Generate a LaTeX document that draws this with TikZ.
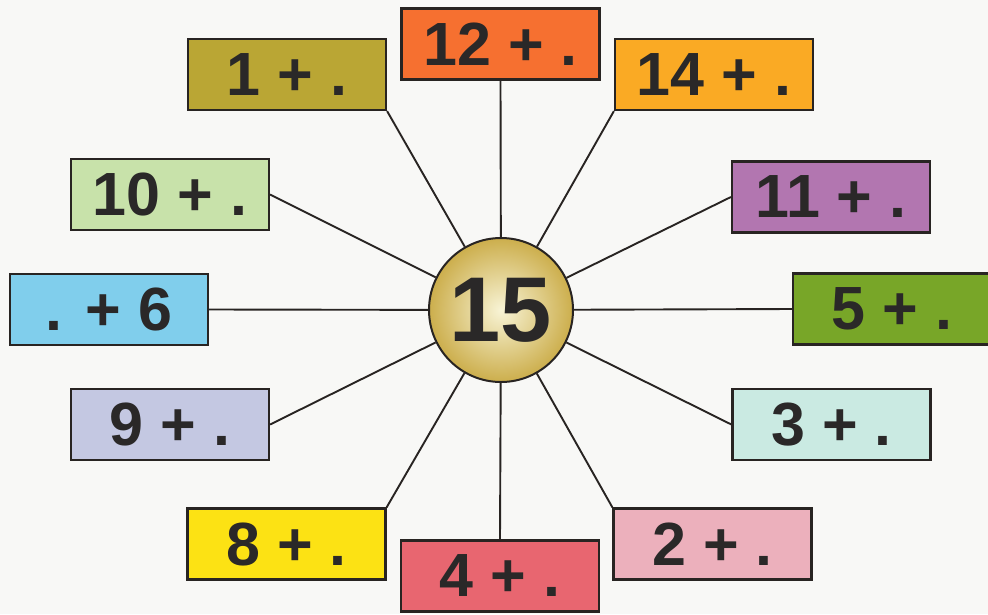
\documentclass[tikz,border=0pt]{standalone}
\usepackage{fontspec}
\setmainfont{Liberation Sans}
\begin{document}
\begin{tikzpicture}[x=1pt, y=-1pt,
    numbox/.style={draw=myedge, line width=2.2pt, minimum width=198pt,
        minimum height=71pt, inner sep=0pt, text=mytext,
        font=\fontsize{61}{61}\selectfont\bfseries},
    spoke/.style={draw=myedge, line width=1.9pt}]
    \definecolor{mybg}{RGB}{248,248,246}
    \definecolor{myedge}{RGB}{40,36,34}
    \definecolor{mytext}{RGB}{42,40,40}
    \definecolor{myolive}{RGB}{186,166,52}
    \definecolor{myred}{RGB}{246,112,48}
    \definecolor{myorange}{RGB}{250,170,36}
    \definecolor{mylgreen}{RGB}{200,226,170}
    \definecolor{mypurple}{RGB}{178,118,176}
    \definecolor{myblue}{RGB}{128,206,236}
    \definecolor{mygreen}{RGB}{120,166,40}
    \definecolor{mylav}{RGB}{196,200,226}
    \definecolor{myteal}{RGB}{202,234,226}
    \definecolor{myyellow}{RGB}{252,226,20}
    \definecolor{mypink}{RGB}{232,102,112}
    \definecolor{mylpink}{RGB}{236,176,188}
    \definecolor{mygoldin}{RGB}{248,244,214}
    \definecolor{mygoldout}{RGB}{204,174,76}

    \fill[mybg] (0,0) rectangle (988,614);
    \useasboundingbox (0,0) rectangle (988,614);

    \node[circle, draw=myedge, line width=2pt, minimum size=144pt,
        inner sep=0pt, shading=radial, inner color=mygoldin,
        outer color=mygoldout, text=mytext,
        font=\fontsize{92}{92}\selectfont\bfseries] (c) at (501,310) {15};

    \node[numbox, fill=myolive]   (n1)  at (287,74.5)  {1 + .};
    \node[numbox, fill=myred]     (n12) at (500.5,44)  {12 + .};
    \node[numbox, fill=myorange]  (n14) at (714,74.5)  {14 + .};
    \node[numbox, fill=mylgreen]  (n10) at (170,194.5) {10 + .};
    \node[numbox, fill=mypurple]  (n11) at (831,197)   {11 + .};
    \node[numbox, fill=myblue]    (n6)  at (109,309.5) {. + 6};
    \node[numbox, fill=mygreen]   (n5)  at (892,309)   {5 + .};
    \node[numbox, fill=mylav]     (n9)  at (170,424.5) {9 + .};
    \node[numbox, fill=myteal]    (n3)  at (831.5,424.5) {3 + .};
    \node[numbox, fill=myyellow]  (n8)  at (286.5,544) {8 + .};
    \node[numbox, fill=mypink]    (n4)  at (500,576)   {4 + .};
    \node[numbox, fill=mylpink]   (n2)  at (712.5,544) {2 + .};

    \draw[spoke] (c) -- (n1.south east);
    \draw[spoke] (c) -- (n12.south);
    \draw[spoke] (c) -- (n14.south west);
    \draw[spoke] (c) -- (n10.east);
    \draw[spoke] (c) -- (n11.west);
    \draw[spoke] (c) -- (n6.east);
    \draw[spoke] (c) -- (n5.west);
    \draw[spoke] (c) -- (n9.east);
    \draw[spoke] (c) -- (n3.west);
    \draw[spoke] (c) -- (n8.north east);
    \draw[spoke] (c) -- (n4.north);
    \draw[spoke] (c) -- (n2.north west);
\end{tikzpicture}
\end{document}
